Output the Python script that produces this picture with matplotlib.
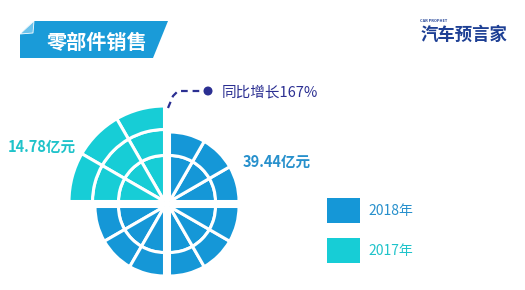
import matplotlib.pyplot as plt
from matplotlib.patches import Wedge, Rectangle, Polygon, Circle

plt.rcParams['font.family'] = ['Noto Sans CJK SC', 'DejaVu Sans']

W, H = 525, 290

title = '零部件销售'
years = ['2018年', '2017年']
sales = [39.44, 14.78]  # 亿元
colors = ['#1597d7', '#17cdd6']
text_colors = ['#2790cc', '#1fc3ca']
growth_color = '#2b2f92'

# which year fills each quadrant: TR, BR, BL, TL
quadrant_year = [0, 0, 0, 1]
quadrant_start = [0, 270, 180, 90]
quadrant_dir = [(1, 1), (1, -1), (-1, -1), (-1, 1)]
ring_edges = {0: [0, 46, 69.5], 1: [0, 46, 72, 95.5]}
n_sectors = 3

growth = round((sales[0] / sales[1] - 1) * 100)

fig = plt.figure(figsize=(W / 100, H / 100), dpi=100)
ax = fig.add_axes([0, 0, 1, 1])
ax.set_xlim(0, W)
ax.set_ylim(0, H)
ax.axis('off')

def py(y):
    # pixel row from top -> data y
    return H - y

# title banner
banner = Polygon([(20, py(58)), (20, py(34)), (34, py(21)), (168, py(21)), (153, py(58))],
                 closed=True, color='#1a9bd8', lw=0)
ax.add_patch(banner)
fold = Polygon([(20, py(34)), (34, py(21)), (33, py(33))], closed=True,
               facecolor='#6cc3ec', edgecolor='white', lw=0.6)
ax.add_patch(fold)
ax.text(97, py(42), title, color='white', fontsize=14.5, fontweight='bold',
        ha='center', va='center')

# logo
ax.text(464, py(35), '汽车预言家', color='#1d3f94', fontsize=12.5, fontweight='bold',
        ha='center', va='center')
ax.text(420, py(21), 'CAR PROPHET', color='#1d3f94', fontsize=2.8, fontweight='bold',
        ha='left', va='center')

# segmented rose
cx, cy = 167, py(204)
off = 2.5
for q in range(4):
    yr = quadrant_year[q]
    dx, dy = quadrant_dir[q]
    qc = (cx + dx * off, cy + dy * off)
    edges = ring_edges[yr]
    step = 90 / n_sectors
    for i in range(len(edges) - 1):
        r0, r1 = edges[i], edges[i + 1]
        for s in range(n_sectors):
            t1 = quadrant_start[q] + s * step
            t2 = t1 + step
            w = Wedge(qc, r1, t1, t2, width=(r1 - r0) if r0 > 0 else None,
                      facecolor=colors[yr], edgecolor='white', lw=2.2)
            ax.add_patch(w)

# value labels
ax.text(243, py(162), f'{sales[0]:.2f}亿元', color=text_colors[0], fontsize=10.5,
        fontweight='bold', ha='left', va='center')
ax.text(8, py(147), f'{sales[1]:.2f}亿元', color=text_colors[1], fontsize=10.5,
        fontweight='bold', ha='left', va='center')

# growth callout
ax.plot([168, 173, 178, 208], [py(108), py(96), py(91), py(91)], color=growth_color,
        lw=1.6, ls=(0, (3, 2.2)))
ax.add_patch(Circle((208, py(91)), 3.8, color=growth_color))
ax.text(222, py(92), f'同比增长{growth}%', color=growth_color, fontsize=10.5,
        fontweight='medium', ha='left', va='center')

# legend
for i, yr in enumerate(years):
    top = 198 + i * 40
    ax.add_patch(Rectangle((327, py(top + 25)), 33, 25, color=colors[i], lw=0))
    ax.text(368, py(top + 12.5), yr, color=text_colors[i], fontsize=10,
            fontweight='medium', ha='left', va='center')

fig.savefig('out.png', dpi=100)
